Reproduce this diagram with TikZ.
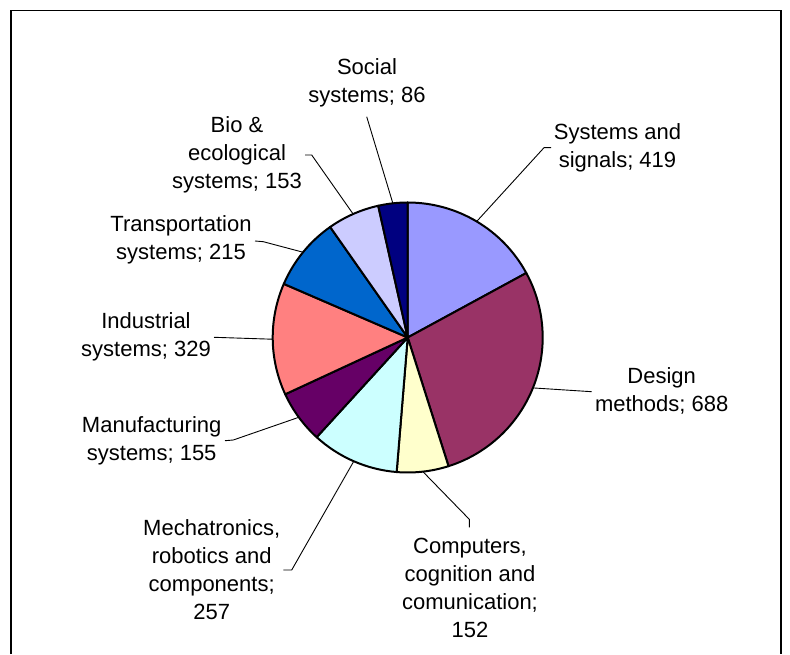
\documentclass[tikz,border=0pt]{standalone}
\usepackage{fontspec}
\setmainfont{Liberation Sans}
\definecolor{cSys}{HTML}{9999FF}
\definecolor{cDes}{HTML}{993366}
\definecolor{cCom}{HTML}{FFFFCC}
\definecolor{cMec}{HTML}{CCFFFF}
\definecolor{cMan}{HTML}{660066}
\definecolor{cInd}{HTML}{FF8080}
\definecolor{cTra}{HTML}{0066CC}
\definecolor{cBio}{HTML}{CCCCFF}
\definecolor{cSoc}{HTML}{000080}
\begin{document}
\begin{tikzpicture}[x=1pt,y=1pt,
  lbl/.style={align=center, inner sep=0pt, font=\fontsize{22}{28}\selectfont},
  slice/.style={draw=black, line width=2pt, line join=round},
  leader/.style={draw=black, line width=0.9pt},
  frameline/.style={draw=black, line width=1.3pt}]
\useasboundingbox (0,0) rectangle (790,654);
\draw[frameline] (11,0) -- (11,643.5) -- (781,643.5) -- (781,0);
\coordinate (c) at (407.7,316.5);
% slices
\filldraw[slice, fill=cSys] (c) -- ([shift={(c)}]90:135) arc[start angle=90, end angle=28.533, radius=135] -- cycle;
\filldraw[slice, fill=cDes] (c) -- ([shift={(c)}]28.533:135) arc[start angle=28.533, end angle=-72.396, radius=135] -- cycle;
\filldraw[slice, fill=cCom] (c) -- ([shift={(c)}]-72.396:135) arc[start angle=-72.396, end angle=-94.694, radius=135] -- cycle;
\filldraw[slice, fill=cMec] (c) -- ([shift={(c)}]-94.694:135) arc[start angle=-94.694, end angle=-132.396, radius=135] -- cycle;
\filldraw[slice, fill=cMan] (c) -- ([shift={(c)}]-132.396:135) arc[start angle=-132.396, end angle=-155.134, radius=135] -- cycle;
\filldraw[slice, fill=cInd] (c) -- ([shift={(c)}]-155.134:135) arc[start angle=-155.134, end angle=-203.398, radius=135] -- cycle;
\filldraw[slice, fill=cTra] (c) -- ([shift={(c)}]-203.398:135) arc[start angle=-203.398, end angle=-234.938, radius=135] -- cycle;
\filldraw[slice, fill=cBio] (c) -- ([shift={(c)}]-234.938:135) arc[start angle=-234.938, end angle=-257.383, radius=135] -- cycle;
\filldraw[slice, fill=cSoc] (c) -- ([shift={(c)}]-257.383:135) arc[start angle=-257.383, end angle=-270, radius=135] -- cycle;
% labels
\node[lbl] (tSys) at (617.5,506.5) {Systems and\\signals; 419};
\node[lbl] (tSoc) at (367,571.5) {Social\\systems; 86};
\node[lbl] (tBio) at (237,499.5) {Bio \&\\ecological\\systems; 153};
\node[lbl] (tTra) at (181,414) {Transportation\\systems; 215};
\node[lbl] (tInd) at (146,317) {Industrial\\systems; 329};
\node[lbl] (tMan) at (151.7,212.7) {Manufacturing\\systems; 155};
\node[lbl] (tMec) at (211.7,84) {Mechatronics,\\robotics and\\components;\\257};
\node[lbl] (tCom) at (470,66) {Computers,\\cognition and\\comunication;\\152};
\node[lbl] (tDes) at (661.7,263.2) {Design\\methods; 688};
% leader line ends
\coordinate (eSys1) at (544,506.3);
\coordinate (eSys2) at (551,506.3);
\coordinate (eDes) at (591.7,262.3);
\coordinate (eCom1) at (469.3,134.7);
\coordinate (eCom2) at (469.3,126.7);
\coordinate (eMec1) at (291.7,84);
\coordinate (eMec2) at (283.3,84);
\coordinate (eMan1) at (233.3,214);
\coordinate (eMan2) at (225,213.3);
\coordinate (eInd) at (214,316.7);
\coordinate (eTra1) at (263.3,412.3);
\coordinate (eTra2) at (255,413);
\coordinate (eBio1) at (311.7,499);
\coordinate (eBio2) at (305,499);
\coordinate (eSoc) at (366.7,537.3);
% leaders
\draw[leader] ([shift={(c)}]59.27:135) -- (eSys1) -- (eSys2);
\draw[leader] ([shift={(c)}]-21.93:135) -- (eDes);
\draw[leader] ([shift={(c)}]-83.545:135) -- (eCom1) -- (eCom2);
\draw[leader] ([shift={(c)}]-113.545:135) -- (eMec1) -- (eMec2);
\draw[leader] ([shift={(c)}]-143.765:135) -- (eMan1) -- (eMan2);
\draw[leader] ([shift={(c)}]-179.266:135) -- (eInd);
\draw[leader] ([shift={(c)}]140.83:135) -- (eTra1) -- (eTra2);
\draw[leader] ([shift={(c)}]113.84:135) -- (eBio1) -- (eBio2);
\draw[leader] ([shift={(c)}]96.31:135) -- (eSoc);
\end{tikzpicture}
\end{document}
